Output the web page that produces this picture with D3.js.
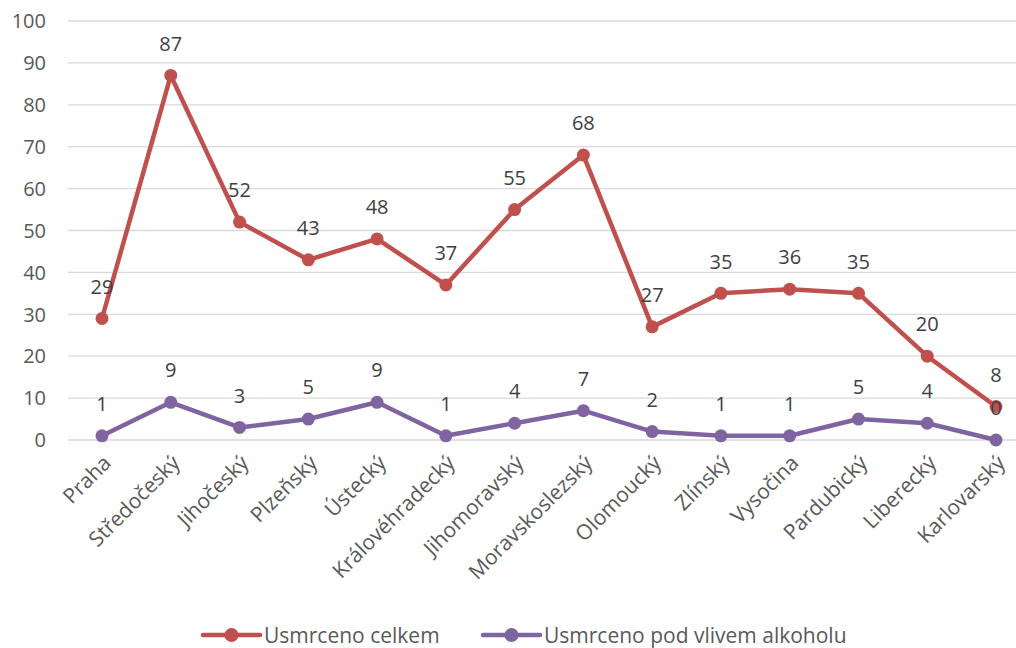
<!DOCTYPE html>
<html><head><meta charset="utf-8">
<script src="https://cdn.jsdelivr.net/npm/d3@7"></script>
<style>body{margin:0;background:#fff;} svg{display:block;font-family:"Open Sans",sans-serif;}</style>
</head><body>
<svg id="c" width="1016" height="648"></svg>
<script>
const categories = ["Praha","Středočeský","Jihočeský","Plzeňský","Ústecký","Královéhradecký","Jihomoravský","Moravskoslezský","Olomoucký","Zlínský","Vysočina","Pardubický","Liberecký","Karlovarský"];
const totalKilled = [29,87,52,43,48,37,55,68,27,35,36,35,20,8];
const alcoholKilled = [1,9,3,5,9,1,4,7,2,1,1,5,4,0];
const yTicks = [0,10,20,30,40,50,60,70,80,90,100];
const seriesNames = ["Usmrceno celkem","Usmrceno pod vlivem alkoholu"];
const colors = ["#C0504D","#8064A2"];

const svg = d3.select("#c");
const x = d3.scalePoint().domain(categories).range([102,996]);
const y = d3.scaleLinear().domain([0,100]).range([440,21]);
const cx = d => x(d);

svg.append("g").selectAll("line").data(yTicks).join("line")
  .attr("x1",68).attr("x2",1016).attr("y1",d=>y(d)).attr("y2",d=>y(d))
  .attr("stroke","#d9d9d9").attr("stroke-width",1.3);
svg.append("g").selectAll("text").data(yTicks).join("text")
  .attr("x",46).attr("y",d=>y(d)).attr("dy","0.36em").attr("text-anchor","end")
  .attr("font-size",20).attr("fill","#595959").text(d=>d);

svg.append("g").selectAll("text").data(categories).join("text")
  .attr("transform",d=>`translate(${cx(d)+5},${459}) rotate(-45)`)
  .attr("text-anchor","end").attr("dy","0.36em")
  .attr("font-size",21).attr("fill","#595959").text(d=>d);

const series = [totalKilled, alcoholKilled];
series.forEach((vals,i)=>{
  const pts = vals.map((v,j)=>({c:categories[j],v}));
  const line = d3.line().x(d=>cx(d.c)).y(d=>y(d.v));
  svg.append("path").datum(pts).attr("d",line).attr("fill","none")
    .attr("stroke",colors[i]).attr("stroke-width",4.5).attr("stroke-linejoin","round");
  svg.append("g").selectAll("circle").data(pts).join("circle")
    .attr("cx",d=>cx(d.c)).attr("cy",d=>y(d.v)).attr("r",6.5).attr("fill",colors[i]);
});
series.forEach((vals,i)=>{
  svg.append("g").selectAll("text").data(vals).join("text")
    .attr("x",(d,j)=>cx(categories[j])).attr("y",d=>y(d)-32).attr("dy","0.36em")
    .attr("text-anchor","middle").attr("font-size",20).attr("fill","#404040").text(d=>d);
});

const leg = svg.append("g");
const legX = [203,483];
seriesNames.forEach((n,i)=>{
  const g = leg.append("g").attr("transform",`translate(${legX[i]},635)`);
  g.append("line").attr("x1",0).attr("x2",57).attr("stroke",colors[i]).attr("stroke-width",4.5).attr("stroke-linecap","round");
  g.append("circle").attr("cx",28.5).attr("r",7).attr("fill",colors[i]);
  g.append("text").attr("x",61).attr("dy","0.36em").attr("font-size",21)
    .attr("fill","#595959").text(n);
});
</script>
</body></html>
